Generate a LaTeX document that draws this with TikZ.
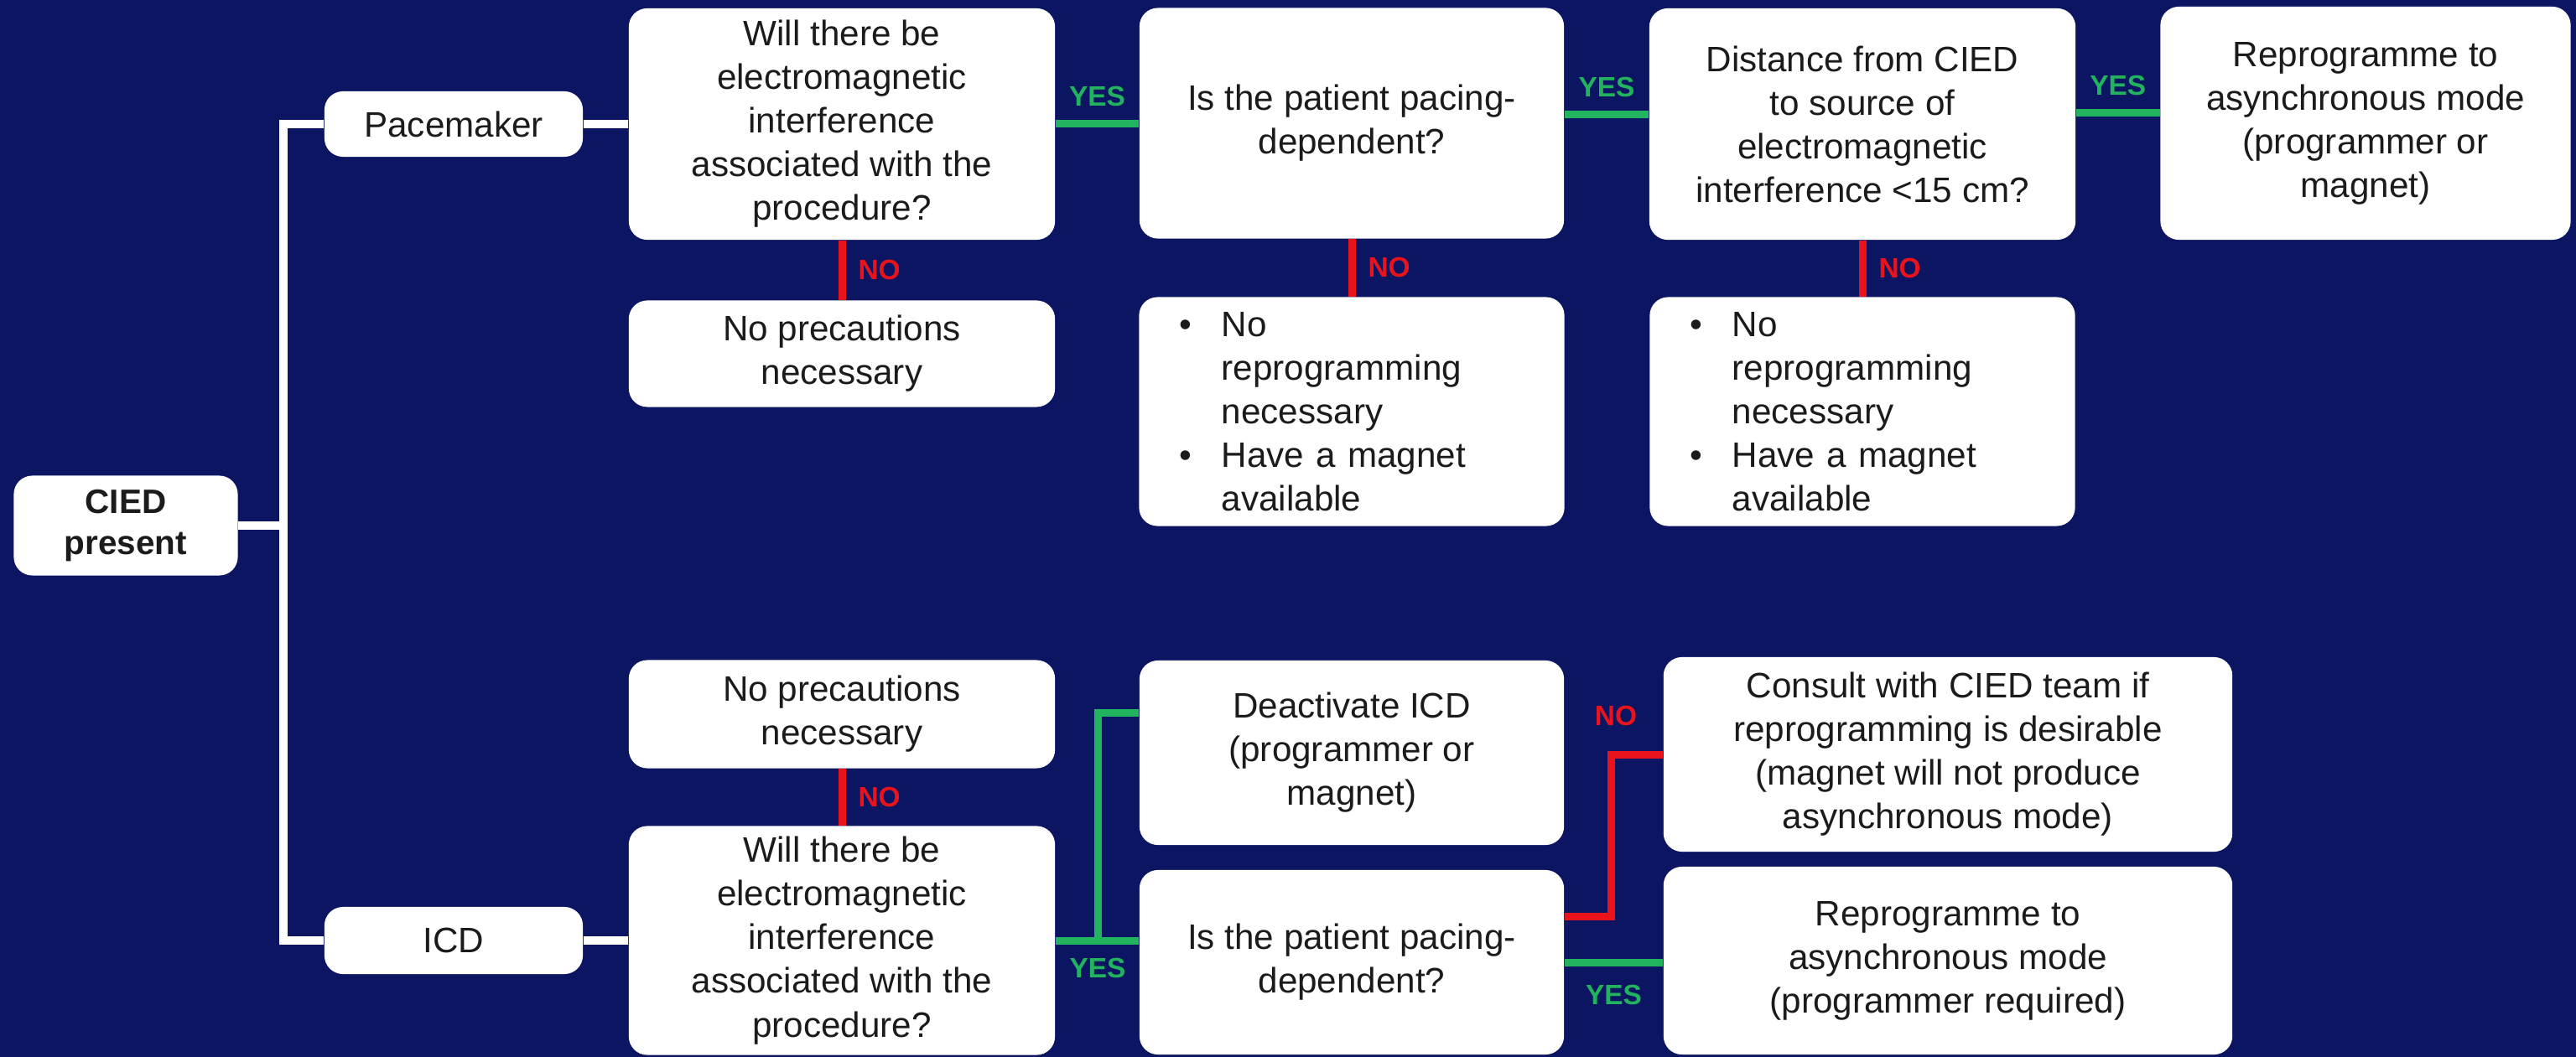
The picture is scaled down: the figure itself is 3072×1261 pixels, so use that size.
\documentclass[tikz,border=0pt]{standalone}
\usepackage{fontspec}
\setmainfont{Liberation Sans}
\definecolor{navy}{HTML}{0C1562}
\definecolor{yesgreen}{HTML}{22B35E}
\definecolor{nored}{HTML}{E8131B}
\definecolor{ink}{HTML}{1B1B1B}
\newcommand{\itemdot}{\makebox[0.5cm][l]{\textbullet}}
\newcommand{\itemgap}{\hspace*{0.5cm}}

\begin{document}
\begin{tikzpicture}[x=0.01cm, y=0.01cm]
\tikzstyle{every node}+=[inner sep=0pt]
\tikzstyle{card}=[fill=white, rounded corners=0.22cm, text=ink, align=center, font=\fontsize{12}{14.8}\selectfont]
\tikzstyle{bullets}=[card, align=left, text width=4.1cm, minimum width=5.07cm, minimum height=2.73cm]
\tikzstyle{wire}=[draw=white, line width=0.1cm]
\tikzstyle{yesline}=[draw=yesgreen, line width=0.09cm]
\tikzstyle{noline}=[draw=nored, line width=0.09cm]
\tikzstyle{yeslbl}=[text=yesgreen, font=\fontsize{9.5}{11}\selectfont\bfseries]
\tikzstyle{nolbl}=[text=nored, font=\fontsize{9.5}{11}\selectfont\bfseries]
\useasboundingbox (0,0) rectangle (3072,-1261);
\fill [navy] (0,0) rectangle (3072,-1261);
\node [card, font=\fontsize{11.5}{14}\selectfont\bfseries, minimum width=2.67cm, minimum height=1.19cm] (cied) at (150,-627) {CIED\\present};
\node [card, minimum width=3.08cm, minimum height=0.78cm] (pacer) at (541,-148) {Pacemaker};
\node [card, minimum width=3.08cm, minimum height=0.8cm] (icd) at (541,-1122) {ICD};
\node [card, minimum width=5.08cm, minimum height=2.76cm] (emiA) at (1004,-148) {Will there be\\electromagnetic\\interference\\associated with the\\procedure?};
\node [card, minimum width=5.08cm, minimum height=1.27cm] (noprecA) at (1004,-422) {No precautions\\necessary};
\node [card, minimum width=5.06cm, minimum height=2.75cm] (pacingA) at (1612,-147) {Is the patient pacing-\\dependent?};
\node [bullets] (magnetA) at (1612,-491) {\itemdot No\\\itemgap reprogramming\\\itemgap necessary\\\itemdot Have a magnet\\\itemgap available};
\node [card, minimum width=5.08cm, minimum height=2.76cm] (dist) at (2221,-148) {Distance from CIED\\to source of\\electromagnetic\\interference <15 cm?};
\node [bullets] (magnetB) at (2221,-491) {\itemdot No\\\itemgap reprogramming\\\itemgap necessary\\\itemdot Have a magnet\\\itemgap available};
\node [card, minimum width=4.89cm, minimum height=2.78cm] (asyncA) at (2821,-147) {Reprogramme to\\asynchronous mode\\(programmer or\\magnet)};
\node [card, minimum width=5.08cm, minimum height=1.29cm] (noprecB) at (1004,-852) {No precautions\\necessary};
\node [card, minimum width=5.08cm, minimum height=2.73cm] (emiB) at (1004,-1122) {Will there be\\electromagnetic\\interference\\associated with the\\procedure?};
\node [card, minimum width=5.06cm, minimum height=2.2cm] (deact) at (1612,-898) {Deactivate ICD\\(programmer or\\magnet)};
\node [card, minimum width=5.06cm, minimum height=2.2cm] (pacingB) at (1612,-1148) {Is the patient pacing-\\dependent?};
\node [card, minimum width=6.78cm, minimum height=2.32cm] (consult) at (2323,-900) {Consult with CIED team if\\reprogramming is desirable\\(magnet will not produce\\asynchronous mode)};
\node [card, minimum width=6.78cm, minimum height=2.24cm] (asyncB) at (2323,-1146) {Reprogramme to\\asynchronous mode\\(programmer required)};
\coordinate (trunk) at (338,-627);
\coordinate (fork) at (1309,-1122);
\coordinate (redbend) at (1921,-900);
\draw [wire] (cied.east) -- (trunk);
\draw [wire] (pacer.west) -| (trunk) |- (icd.west);
\draw [wire] (pacer.east) -- (emiA.west);
\draw [wire] (icd.east) -- (emiB.west);
\draw [yesline] (emiA.east) -- (pacingA.west |- emiA.east) node [yeslbl, midway, above=1.7mm] {YES};
\draw [yesline] ([yshift=1mm]pacingA.east) -- ([yshift=1mm]pacingA.east -| dist.west) node [yeslbl, midway, above=1.7mm] {YES};
\draw [yesline] ([yshift=1.3mm]dist.east) -- ([yshift=1.3mm]dist.east -| asyncA.west) node [yeslbl, midway, above=1.7mm] {YES};
\draw [noline] (emiA.south) -- (noprecA.north) node [nolbl, midway, right=1.5mm] {NO};
\draw [noline] (pacingA.south) -- (magnetA.north) node [nolbl, midway, right=1.5mm] {NO};
\draw [noline] (dist.south) -- (magnetB.north) node [nolbl, midway, right=1.5mm] {NO};
\draw [noline] (emiB.north) -- (noprecB.south) node [nolbl, midway, right=1.5mm] {NO};
\draw [yesline] (emiB.east) -- (fork) node [yeslbl, below=1.7mm] {YES};
\draw [yesline] (fork) |- ([yshift=4.7mm]deact.west);
\draw [yesline] (fork) -- (fork -| pacingB.west);
\draw [noline] ([yshift=5.4mm]pacingB.east) -| (redbend) node [nolbl, above=3mm, xshift=0.6mm] {NO} -- (consult.west);
\draw [yesline] (pacingB.east) -- (pacingB.east -| asyncB.west) node [yeslbl, midway, below=2.3mm] {YES};
\end{tikzpicture}
\end{document}
